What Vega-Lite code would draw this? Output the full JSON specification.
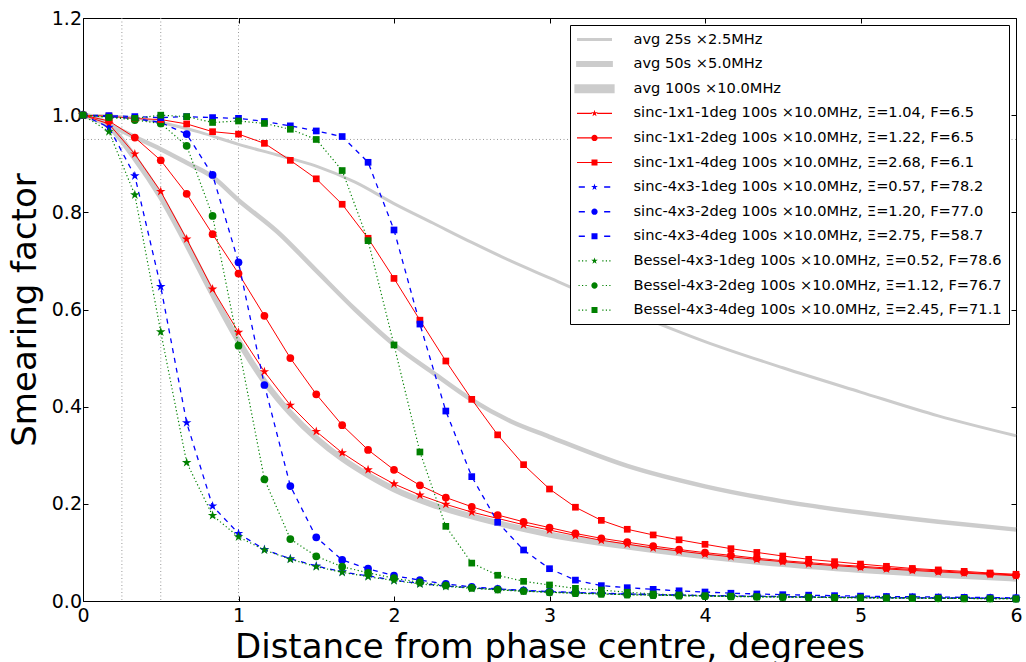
{
"$schema": "https://vega.github.io/schema/vega-lite/v6.json",
"width": 933, "height": 583,
"autosize": {"type": "none"},
"padding": {"left": 83, "top": 18, "right": 10, "bottom": 61},
"background": "white",
"config": {
  "view": {"stroke": "black", "strokeWidth": 1},
  "axis": {"grid": false, "domain": false, "tickColor": "black", "tickSize": -5, "tickWidth": 1, "labelFont": "DejaVu Sans", "labelFontSize": 19, "labelColor": "black", "titleFont": "DejaVu Sans", "titleFontSize": 34, "titleFontWeight": "normal", "titleColor": "black", "labelFlush": false, "labelOverlap": false}
},
"datasets": {
  "v": [{"v": 0.25}, {"v": 0.5}, {"v": 1}],
  "h": [{"h": 0.95}],
  "c": [
{"s":"avg 25s","x":0,"y":1},{"s":"avg 25s","x":0.25,"y":0.997},{"s":"avg 25s","x":0.5,"y":0.985},{"s":"avg 25s","x":0.75,"y":0.965},{"s":"avg 25s","x":1,"y":0.94},{"s":"avg 25s","x":1.25,"y":0.918},{"s":"avg 25s","x":1.5,"y":0.895},{"s":"avg 25s","x":1.75,"y":0.862},{"s":"avg 25s","x":2,"y":0.818},{"s":"avg 25s","x":2.25,"y":0.778},{"s":"avg 25s","x":2.5,"y":0.738},{"s":"avg 25s","x":2.75,"y":0.7},{"s":"avg 25s","x":3,"y":0.665},{"s":"avg 25s","x":3.25,"y":0.63},{"s":"avg 25s","x":3.5,"y":0.597},{"s":"avg 25s","x":4,"y":0.534},{"s":"avg 25s","x":4.5,"y":0.48},{"s":"avg 25s","x":5,"y":0.43},{"s":"avg 25s","x":5.5,"y":0.381},{"s":"avg 25s","x":6,"y":0.34},
{"s":"avg 50s","x":0,"y":1},{"s":"avg 50s","x":0.1667,"y":0.98},{"s":"avg 50s","x":0.3333,"y":0.955},{"s":"avg 50s","x":0.5,"y":0.93},{"s":"avg 50s","x":0.6667,"y":0.902},{"s":"avg 50s","x":0.8333,"y":0.873},{"s":"avg 50s","x":1,"y":0.825},{"s":"avg 50s","x":1.25,"y":0.76},{"s":"avg 50s","x":1.5,"y":0.68},{"s":"avg 50s","x":1.75,"y":0.6},{"s":"avg 50s","x":2,"y":0.528},{"s":"avg 50s","x":2.25,"y":0.47},{"s":"avg 50s","x":2.5,"y":0.414},{"s":"avg 50s","x":2.75,"y":0.37},{"s":"avg 50s","x":3,"y":0.338},{"s":"avg 50s","x":3.5,"y":0.278},{"s":"avg 50s","x":4,"y":0.236},{"s":"avg 50s","x":4.5,"y":0.205},{"s":"avg 50s","x":5,"y":0.182},{"s":"avg 50s","x":5.5,"y":0.163},{"s":"avg 50s","x":6,"y":0.147},
{"s":"avg 100s","x":0,"y":1},{"s":"avg 100s","x":0.1667,"y":0.978},{"s":"avg 100s","x":0.3333,"y":0.912},{"s":"avg 100s","x":0.5,"y":0.832},{"s":"avg 100s","x":0.6667,"y":0.735},{"s":"avg 100s","x":0.8333,"y":0.632},{"s":"avg 100s","x":1,"y":0.535},{"s":"avg 100s","x":1.1667,"y":0.452},{"s":"avg 100s","x":1.3333,"y":0.387},{"s":"avg 100s","x":1.5,"y":0.335},{"s":"avg 100s","x":1.6667,"y":0.293},{"s":"avg 100s","x":1.8333,"y":0.259},{"s":"avg 100s","x":2,"y":0.23},{"s":"avg 100s","x":2.25,"y":0.198},{"s":"avg 100s","x":2.5,"y":0.174},{"s":"avg 100s","x":2.75,"y":0.154},{"s":"avg 100s","x":3,"y":0.137},{"s":"avg 100s","x":3.5,"y":0.112},{"s":"avg 100s","x":4,"y":0.092},{"s":"avg 100s","x":4.5,"y":0.076},{"s":"avg 100s","x":5,"y":0.064},{"s":"avg 100s","x":5.5,"y":0.054},{"s":"avg 100s","x":6,"y":0.046},
{"s":"sinc-1x1-1deg","x":0,"y":1},{"s":"sinc-1x1-1deg","x":0.1667,"y":0.982},{"s":"sinc-1x1-1deg","x":0.3333,"y":0.92},{"s":"sinc-1x1-1deg","x":0.5,"y":0.843},{"s":"sinc-1x1-1deg","x":0.6667,"y":0.745},{"s":"sinc-1x1-1deg","x":0.8333,"y":0.642},{"s":"sinc-1x1-1deg","x":1,"y":0.553},{"s":"sinc-1x1-1deg","x":1.1667,"y":0.472},{"s":"sinc-1x1-1deg","x":1.3333,"y":0.403},{"s":"sinc-1x1-1deg","x":1.5,"y":0.349},{"s":"sinc-1x1-1deg","x":1.6667,"y":0.305},{"s":"sinc-1x1-1deg","x":1.8333,"y":0.27},{"s":"sinc-1x1-1deg","x":2,"y":0.241},{"s":"sinc-1x1-1deg","x":2.1667,"y":0.218},{"s":"sinc-1x1-1deg","x":2.3333,"y":0.199},{"s":"sinc-1x1-1deg","x":2.5,"y":0.183},{"s":"sinc-1x1-1deg","x":2.6667,"y":0.17},{"s":"sinc-1x1-1deg","x":2.8333,"y":0.157},{"s":"sinc-1x1-1deg","x":3,"y":0.146},{"s":"sinc-1x1-1deg","x":3.1667,"y":0.135},{"s":"sinc-1x1-1deg","x":3.3333,"y":0.125},{"s":"sinc-1x1-1deg","x":3.5,"y":0.117},{"s":"sinc-1x1-1deg","x":3.6667,"y":0.109},{"s":"sinc-1x1-1deg","x":3.8333,"y":0.103},{"s":"sinc-1x1-1deg","x":4,"y":0.0965},{"s":"sinc-1x1-1deg","x":4.1667,"y":0.091},{"s":"sinc-1x1-1deg","x":4.3333,"y":0.0855},{"s":"sinc-1x1-1deg","x":4.5,"y":0.081},{"s":"sinc-1x1-1deg","x":4.6667,"y":0.0765},{"s":"sinc-1x1-1deg","x":4.8333,"y":0.0728},{"s":"sinc-1x1-1deg","x":5,"y":0.0695},{"s":"sinc-1x1-1deg","x":5.1667,"y":0.066},{"s":"sinc-1x1-1deg","x":5.3333,"y":0.063},{"s":"sinc-1x1-1deg","x":5.5,"y":0.06},{"s":"sinc-1x1-1deg","x":5.6667,"y":0.0575},{"s":"sinc-1x1-1deg","x":5.8333,"y":0.0548},{"s":"sinc-1x1-1deg","x":6,"y":0.052},
{"s":"sinc-1x1-2deg","x":0,"y":1},{"s":"sinc-1x1-2deg","x":0.1667,"y":0.988},{"s":"sinc-1x1-2deg","x":0.3333,"y":0.954},{"s":"sinc-1x1-2deg","x":0.5,"y":0.907},{"s":"sinc-1x1-2deg","x":0.6667,"y":0.838},{"s":"sinc-1x1-2deg","x":0.8333,"y":0.755},{"s":"sinc-1x1-2deg","x":1,"y":0.674},{"s":"sinc-1x1-2deg","x":1.1667,"y":0.587},{"s":"sinc-1x1-2deg","x":1.3333,"y":0.5},{"s":"sinc-1x1-2deg","x":1.5,"y":0.4255},{"s":"sinc-1x1-2deg","x":1.6667,"y":0.362},{"s":"sinc-1x1-2deg","x":1.8333,"y":0.311},{"s":"sinc-1x1-2deg","x":2,"y":0.27},{"s":"sinc-1x1-2deg","x":2.1667,"y":0.238},{"s":"sinc-1x1-2deg","x":2.3333,"y":0.213},{"s":"sinc-1x1-2deg","x":2.5,"y":0.194},{"s":"sinc-1x1-2deg","x":2.6667,"y":0.177},{"s":"sinc-1x1-2deg","x":2.8333,"y":0.163},{"s":"sinc-1x1-2deg","x":3,"y":0.151},{"s":"sinc-1x1-2deg","x":3.1667,"y":0.139},{"s":"sinc-1x1-2deg","x":3.3333,"y":0.129},{"s":"sinc-1x1-2deg","x":3.5,"y":0.121},{"s":"sinc-1x1-2deg","x":3.6667,"y":0.113},{"s":"sinc-1x1-2deg","x":3.8333,"y":0.106},{"s":"sinc-1x1-2deg","x":4,"y":0.0995},{"s":"sinc-1x1-2deg","x":4.1667,"y":0.094},{"s":"sinc-1x1-2deg","x":4.3333,"y":0.088},{"s":"sinc-1x1-2deg","x":4.5,"y":0.083},{"s":"sinc-1x1-2deg","x":4.6667,"y":0.079},{"s":"sinc-1x1-2deg","x":4.8333,"y":0.075},{"s":"sinc-1x1-2deg","x":5,"y":0.0715},{"s":"sinc-1x1-2deg","x":5.1667,"y":0.068},{"s":"sinc-1x1-2deg","x":5.3333,"y":0.065},{"s":"sinc-1x1-2deg","x":5.5,"y":0.062},{"s":"sinc-1x1-2deg","x":5.6667,"y":0.059},{"s":"sinc-1x1-2deg","x":5.8333,"y":0.056},{"s":"sinc-1x1-2deg","x":6,"y":0.0535},
{"s":"sinc-1x1-4deg","x":0,"y":1},{"s":"sinc-1x1-4deg","x":0.1667,"y":0.998},{"s":"sinc-1x1-4deg","x":0.3333,"y":0.993},{"s":"sinc-1x1-4deg","x":0.5,"y":0.991},{"s":"sinc-1x1-4deg","x":0.6667,"y":0.982},{"s":"sinc-1x1-4deg","x":0.8333,"y":0.966},{"s":"sinc-1x1-4deg","x":1,"y":0.961},{"s":"sinc-1x1-4deg","x":1.1667,"y":0.942},{"s":"sinc-1x1-4deg","x":1.3333,"y":0.907},{"s":"sinc-1x1-4deg","x":1.5,"y":0.869},{"s":"sinc-1x1-4deg","x":1.6667,"y":0.8166},{"s":"sinc-1x1-4deg","x":1.8333,"y":0.7466},{"s":"sinc-1x1-4deg","x":2,"y":0.664},{"s":"sinc-1x1-4deg","x":2.1667,"y":0.578},{"s":"sinc-1x1-4deg","x":2.3333,"y":0.494},{"s":"sinc-1x1-4deg","x":2.5,"y":0.415},{"s":"sinc-1x1-4deg","x":2.6667,"y":0.342},{"s":"sinc-1x1-4deg","x":2.8333,"y":0.2806},{"s":"sinc-1x1-4deg","x":3,"y":0.2305},{"s":"sinc-1x1-4deg","x":3.1667,"y":0.193},{"s":"sinc-1x1-4deg","x":3.3333,"y":0.166},{"s":"sinc-1x1-4deg","x":3.5,"y":0.1476},{"s":"sinc-1x1-4deg","x":3.6667,"y":0.136},{"s":"sinc-1x1-4deg","x":3.8333,"y":0.126},{"s":"sinc-1x1-4deg","x":4,"y":0.1167},{"s":"sinc-1x1-4deg","x":4.1667,"y":0.1077},{"s":"sinc-1x1-4deg","x":4.3333,"y":0.1},{"s":"sinc-1x1-4deg","x":4.5,"y":0.0926},{"s":"sinc-1x1-4deg","x":4.6667,"y":0.0858},{"s":"sinc-1x1-4deg","x":4.8333,"y":0.081},{"s":"sinc-1x1-4deg","x":5,"y":0.076},{"s":"sinc-1x1-4deg","x":5.1667,"y":0.0714},{"s":"sinc-1x1-4deg","x":5.3333,"y":0.067},{"s":"sinc-1x1-4deg","x":5.5,"y":0.064},{"s":"sinc-1x1-4deg","x":5.6667,"y":0.061},{"s":"sinc-1x1-4deg","x":5.8333,"y":0.0576},{"s":"sinc-1x1-4deg","x":6,"y":0.055},
{"s":"sinc-4x3-1deg","x":0,"y":1},{"s":"sinc-4x3-1deg","x":0.1667,"y":0.975},{"s":"sinc-4x3-1deg","x":0.3333,"y":0.875},{"s":"sinc-4x3-1deg","x":0.5,"y":0.647},{"s":"sinc-4x3-1deg","x":0.6667,"y":0.367},{"s":"sinc-4x3-1deg","x":0.8333,"y":0.1955},{"s":"sinc-4x3-1deg","x":1,"y":0.139},{"s":"sinc-4x3-1deg","x":1.1667,"y":0.106},{"s":"sinc-4x3-1deg","x":1.3333,"y":0.087},{"s":"sinc-4x3-1deg","x":1.5,"y":0.072},{"s":"sinc-4x3-1deg","x":1.6667,"y":0.06},{"s":"sinc-4x3-1deg","x":1.8333,"y":0.0515},{"s":"sinc-4x3-1deg","x":2,"y":0.043},{"s":"sinc-4x3-1deg","x":2.1667,"y":0.036},{"s":"sinc-4x3-1deg","x":2.3333,"y":0.031},{"s":"sinc-4x3-1deg","x":2.5,"y":0.027},{"s":"sinc-4x3-1deg","x":2.6667,"y":0.024},{"s":"sinc-4x3-1deg","x":2.8333,"y":0.021},{"s":"sinc-4x3-1deg","x":3,"y":0.019},{"s":"sinc-4x3-1deg","x":3.1667,"y":0.017},{"s":"sinc-4x3-1deg","x":3.3333,"y":0.0155},{"s":"sinc-4x3-1deg","x":3.5,"y":0.014},{"s":"sinc-4x3-1deg","x":3.6667,"y":0.013},{"s":"sinc-4x3-1deg","x":3.8333,"y":0.012},{"s":"sinc-4x3-1deg","x":4,"y":0.011},{"s":"sinc-4x3-1deg","x":4.1667,"y":0.0102},{"s":"sinc-4x3-1deg","x":4.3333,"y":0.0095},{"s":"sinc-4x3-1deg","x":4.5,"y":0.0089},{"s":"sinc-4x3-1deg","x":4.6667,"y":0.0083},{"s":"sinc-4x3-1deg","x":4.8333,"y":0.0078},{"s":"sinc-4x3-1deg","x":5,"y":0.0073},{"s":"sinc-4x3-1deg","x":5.1667,"y":0.0069},{"s":"sinc-4x3-1deg","x":5.3333,"y":0.0065},{"s":"sinc-4x3-1deg","x":5.5,"y":0.0061},{"s":"sinc-4x3-1deg","x":5.6667,"y":0.0058},{"s":"sinc-4x3-1deg","x":5.8333,"y":0.0055},{"s":"sinc-4x3-1deg","x":6,"y":0.0052},
{"s":"sinc-4x3-2deg","x":0,"y":1},{"s":"sinc-4x3-2deg","x":0.1667,"y":0.997},{"s":"sinc-4x3-2deg","x":0.3333,"y":0.993},{"s":"sinc-4x3-2deg","x":0.5,"y":0.985},{"s":"sinc-4x3-2deg","x":0.6667,"y":0.961},{"s":"sinc-4x3-2deg","x":0.8333,"y":0.877},{"s":"sinc-4x3-2deg","x":1,"y":0.697},{"s":"sinc-4x3-2deg","x":1.1667,"y":0.4446},{"s":"sinc-4x3-2deg","x":1.3333,"y":0.2367},{"s":"sinc-4x3-2deg","x":1.5,"y":0.131},{"s":"sinc-4x3-2deg","x":1.6667,"y":0.0844},{"s":"sinc-4x3-2deg","x":1.8333,"y":0.0665},{"s":"sinc-4x3-2deg","x":2,"y":0.052},{"s":"sinc-4x3-2deg","x":2.1667,"y":0.043},{"s":"sinc-4x3-2deg","x":2.3333,"y":0.035},{"s":"sinc-4x3-2deg","x":2.5,"y":0.029},{"s":"sinc-4x3-2deg","x":2.6667,"y":0.025},{"s":"sinc-4x3-2deg","x":2.8333,"y":0.022},{"s":"sinc-4x3-2deg","x":3,"y":0.0195},{"s":"sinc-4x3-2deg","x":3.1667,"y":0.0175},{"s":"sinc-4x3-2deg","x":3.3333,"y":0.016},{"s":"sinc-4x3-2deg","x":3.5,"y":0.0145},{"s":"sinc-4x3-2deg","x":3.6667,"y":0.0133},{"s":"sinc-4x3-2deg","x":3.8333,"y":0.0122},{"s":"sinc-4x3-2deg","x":4,"y":0.0113},{"s":"sinc-4x3-2deg","x":4.1667,"y":0.0105},{"s":"sinc-4x3-2deg","x":4.3333,"y":0.0098},{"s":"sinc-4x3-2deg","x":4.5,"y":0.0092},{"s":"sinc-4x3-2deg","x":4.6667,"y":0.0086},{"s":"sinc-4x3-2deg","x":4.8333,"y":0.0081},{"s":"sinc-4x3-2deg","x":5,"y":0.0076},{"s":"sinc-4x3-2deg","x":5.1667,"y":0.0072},{"s":"sinc-4x3-2deg","x":5.3333,"y":0.0068},{"s":"sinc-4x3-2deg","x":5.5,"y":0.0064},{"s":"sinc-4x3-2deg","x":5.6667,"y":0.006},{"s":"sinc-4x3-2deg","x":5.8333,"y":0.0057},{"s":"sinc-4x3-2deg","x":6,"y":0.0054},
{"s":"sinc-4x3-4deg","x":0,"y":1},{"s":"sinc-4x3-4deg","x":0.1667,"y":0.999},{"s":"sinc-4x3-4deg","x":0.3333,"y":0.997},{"s":"sinc-4x3-4deg","x":0.5,"y":0.995},{"s":"sinc-4x3-4deg","x":0.6667,"y":0.997},{"s":"sinc-4x3-4deg","x":0.8333,"y":0.995},{"s":"sinc-4x3-4deg","x":1,"y":0.9935},{"s":"sinc-4x3-4deg","x":1.1667,"y":0.987},{"s":"sinc-4x3-4deg","x":1.3333,"y":0.978},{"s":"sinc-4x3-4deg","x":1.5,"y":0.9675},{"s":"sinc-4x3-4deg","x":1.6667,"y":0.956},{"s":"sinc-4x3-4deg","x":1.8333,"y":0.903},{"s":"sinc-4x3-4deg","x":2,"y":0.7637},{"s":"sinc-4x3-4deg","x":2.1667,"y":0.57},{"s":"sinc-4x3-4deg","x":2.3333,"y":0.391},{"s":"sinc-4x3-4deg","x":2.5,"y":0.256},{"s":"sinc-4x3-4deg","x":2.6667,"y":0.162},{"s":"sinc-4x3-4deg","x":2.8333,"y":0.105},{"s":"sinc-4x3-4deg","x":3,"y":0.0665},{"s":"sinc-4x3-4deg","x":3.1667,"y":0.043},{"s":"sinc-4x3-4deg","x":3.3333,"y":0.0316},{"s":"sinc-4x3-4deg","x":3.5,"y":0.0274},{"s":"sinc-4x3-4deg","x":3.6667,"y":0.024},{"s":"sinc-4x3-4deg","x":3.8333,"y":0.021},{"s":"sinc-4x3-4deg","x":4,"y":0.0185},{"s":"sinc-4x3-4deg","x":4.1667,"y":0.016},{"s":"sinc-4x3-4deg","x":4.3333,"y":0.0145},{"s":"sinc-4x3-4deg","x":4.5,"y":0.013},{"s":"sinc-4x3-4deg","x":4.6667,"y":0.012},{"s":"sinc-4x3-4deg","x":4.8333,"y":0.011},{"s":"sinc-4x3-4deg","x":5,"y":0.01},{"s":"sinc-4x3-4deg","x":5.1667,"y":0.0093},{"s":"sinc-4x3-4deg","x":5.3333,"y":0.0087},{"s":"sinc-4x3-4deg","x":5.5,"y":0.0081},{"s":"sinc-4x3-4deg","x":5.6667,"y":0.0075},{"s":"sinc-4x3-4deg","x":5.8333,"y":0.007},{"s":"sinc-4x3-4deg","x":6,"y":0.0065},
{"s":"Bessel-4x3-1deg","x":0,"y":1},{"s":"Bessel-4x3-1deg","x":0.1667,"y":0.966},{"s":"Bessel-4x3-1deg","x":0.3333,"y":0.836},{"s":"Bessel-4x3-1deg","x":0.5,"y":0.554},{"s":"Bessel-4x3-1deg","x":0.6667,"y":0.285},{"s":"Bessel-4x3-1deg","x":0.8333,"y":0.176},{"s":"Bessel-4x3-1deg","x":1,"y":0.132},{"s":"Bessel-4x3-1deg","x":1.1667,"y":0.105},{"s":"Bessel-4x3-1deg","x":1.3333,"y":0.086},{"s":"Bessel-4x3-1deg","x":1.5,"y":0.0706},{"s":"Bessel-4x3-1deg","x":1.6667,"y":0.059},{"s":"Bessel-4x3-1deg","x":1.8333,"y":0.05},{"s":"Bessel-4x3-1deg","x":2,"y":0.042},{"s":"Bessel-4x3-1deg","x":2.1667,"y":0.035},{"s":"Bessel-4x3-1deg","x":2.3333,"y":0.03},{"s":"Bessel-4x3-1deg","x":2.5,"y":0.026},{"s":"Bessel-4x3-1deg","x":2.6667,"y":0.023},{"s":"Bessel-4x3-1deg","x":2.8333,"y":0.02},{"s":"Bessel-4x3-1deg","x":3,"y":0.018},{"s":"Bessel-4x3-1deg","x":3.1667,"y":0.016},{"s":"Bessel-4x3-1deg","x":3.3333,"y":0.0145},{"s":"Bessel-4x3-1deg","x":3.5,"y":0.013},{"s":"Bessel-4x3-1deg","x":3.6667,"y":0.012},{"s":"Bessel-4x3-1deg","x":3.8333,"y":0.011},{"s":"Bessel-4x3-1deg","x":4,"y":0.0102},{"s":"Bessel-4x3-1deg","x":4.1667,"y":0.0094},{"s":"Bessel-4x3-1deg","x":4.3333,"y":0.0087},{"s":"Bessel-4x3-1deg","x":4.5,"y":0.0081},{"s":"Bessel-4x3-1deg","x":4.6667,"y":0.0076},{"s":"Bessel-4x3-1deg","x":4.8333,"y":0.0071},{"s":"Bessel-4x3-1deg","x":5,"y":0.0066},{"s":"Bessel-4x3-1deg","x":5.1667,"y":0.0062},{"s":"Bessel-4x3-1deg","x":5.3333,"y":0.0058},{"s":"Bessel-4x3-1deg","x":5.5,"y":0.0055},{"s":"Bessel-4x3-1deg","x":5.6667,"y":0.0052},{"s":"Bessel-4x3-1deg","x":5.8333,"y":0.0049},{"s":"Bessel-4x3-1deg","x":6,"y":0.0046},
{"s":"Bessel-4x3-2deg","x":0,"y":1},{"s":"Bessel-4x3-2deg","x":0.1667,"y":0.996},{"s":"Bessel-4x3-2deg","x":0.3333,"y":0.99},{"s":"Bessel-4x3-2deg","x":0.5,"y":0.983},{"s":"Bessel-4x3-2deg","x":0.6667,"y":0.937},{"s":"Bessel-4x3-2deg","x":0.8333,"y":0.7925},{"s":"Bessel-4x3-2deg","x":1,"y":0.5255},{"s":"Bessel-4x3-2deg","x":1.1667,"y":0.2505},{"s":"Bessel-4x3-2deg","x":1.3333,"y":0.1276},{"s":"Bessel-4x3-2deg","x":1.5,"y":0.092},{"s":"Bessel-4x3-2deg","x":1.6667,"y":0.0706},{"s":"Bessel-4x3-2deg","x":1.8333,"y":0.058},{"s":"Bessel-4x3-2deg","x":2,"y":0.047},{"s":"Bessel-4x3-2deg","x":2.1667,"y":0.0385},{"s":"Bessel-4x3-2deg","x":2.3333,"y":0.032},{"s":"Bessel-4x3-2deg","x":2.5,"y":0.027},{"s":"Bessel-4x3-2deg","x":2.6667,"y":0.0235},{"s":"Bessel-4x3-2deg","x":2.8333,"y":0.0205},{"s":"Bessel-4x3-2deg","x":3,"y":0.018},{"s":"Bessel-4x3-2deg","x":3.1667,"y":0.016},{"s":"Bessel-4x3-2deg","x":3.3333,"y":0.0145},{"s":"Bessel-4x3-2deg","x":3.5,"y":0.013},{"s":"Bessel-4x3-2deg","x":3.6667,"y":0.012},{"s":"Bessel-4x3-2deg","x":3.8333,"y":0.011},{"s":"Bessel-4x3-2deg","x":4,"y":0.01},{"s":"Bessel-4x3-2deg","x":4.1667,"y":0.0093},{"s":"Bessel-4x3-2deg","x":4.3333,"y":0.0087},{"s":"Bessel-4x3-2deg","x":4.5,"y":0.0081},{"s":"Bessel-4x3-2deg","x":4.6667,"y":0.0075},{"s":"Bessel-4x3-2deg","x":4.8333,"y":0.007},{"s":"Bessel-4x3-2deg","x":5,"y":0.0066},{"s":"Bessel-4x3-2deg","x":5.1667,"y":0.0062},{"s":"Bessel-4x3-2deg","x":5.3333,"y":0.0058},{"s":"Bessel-4x3-2deg","x":5.5,"y":0.0055},{"s":"Bessel-4x3-2deg","x":5.6667,"y":0.0052},{"s":"Bessel-4x3-2deg","x":5.8333,"y":0.0049},{"s":"Bessel-4x3-2deg","x":6,"y":0.0046},
{"s":"Bessel-4x3-4deg","x":0,"y":1},{"s":"Bessel-4x3-4deg","x":0.1667,"y":0.9955},{"s":"Bessel-4x3-4deg","x":0.3333,"y":0.9935},{"s":"Bessel-4x3-4deg","x":0.5,"y":1},{"s":"Bessel-4x3-4deg","x":0.6667,"y":0.997},{"s":"Bessel-4x3-4deg","x":0.8333,"y":0.985},{"s":"Bessel-4x3-4deg","x":1,"y":0.988},{"s":"Bessel-4x3-4deg","x":1.1667,"y":0.983},{"s":"Bessel-4x3-4deg","x":1.3333,"y":0.971},{"s":"Bessel-4x3-4deg","x":1.5,"y":0.95},{"s":"Bessel-4x3-4deg","x":1.6667,"y":0.886},{"s":"Bessel-4x3-4deg","x":1.8333,"y":0.7417},{"s":"Bessel-4x3-4deg","x":2,"y":0.527},{"s":"Bessel-4x3-4deg","x":2.1667,"y":0.3067},{"s":"Bessel-4x3-4deg","x":2.3333,"y":0.1537},{"s":"Bessel-4x3-4deg","x":2.5,"y":0.078},{"s":"Bessel-4x3-4deg","x":2.6667,"y":0.053},{"s":"Bessel-4x3-4deg","x":2.8333,"y":0.0405},{"s":"Bessel-4x3-4deg","x":3,"y":0.033},{"s":"Bessel-4x3-4deg","x":3.1667,"y":0.026},{"s":"Bessel-4x3-4deg","x":3.3333,"y":0.0226},{"s":"Bessel-4x3-4deg","x":3.5,"y":0.018},{"s":"Bessel-4x3-4deg","x":3.6667,"y":0.0144},{"s":"Bessel-4x3-4deg","x":3.8333,"y":0.0124},{"s":"Bessel-4x3-4deg","x":4,"y":0.011},{"s":"Bessel-4x3-4deg","x":4.1667,"y":0.01},{"s":"Bessel-4x3-4deg","x":4.3333,"y":0.0092},{"s":"Bessel-4x3-4deg","x":4.5,"y":0.0085},{"s":"Bessel-4x3-4deg","x":4.6667,"y":0.0079},{"s":"Bessel-4x3-4deg","x":4.8333,"y":0.0073},{"s":"Bessel-4x3-4deg","x":5,"y":0.0068},{"s":"Bessel-4x3-4deg","x":5.1667,"y":0.0064},{"s":"Bessel-4x3-4deg","x":5.3333,"y":0.006},{"s":"Bessel-4x3-4deg","x":5.5,"y":0.0056},{"s":"Bessel-4x3-4deg","x":5.6667,"y":0.0053},{"s":"Bessel-4x3-4deg","x":5.8333,"y":0.005},{"s":"Bessel-4x3-4deg","x":6,"y":0.0047}
  ]
},
"resolve": {"axis": {"x": "independent", "y": "independent"}},
"layer": [
  {
    "data": {"name": "v"},
    "mark": {"type": "rule", "stroke": "#9a9a9a", "strokeWidth": 1, "strokeDash": [1, 2.5]},
    "encoding": {"x": {"field": "v", "type": "quantitative", "scale": {"domain": [0, 6], "nice": false, "zero": false}, "axis": null}}
  },
  {
    "data": {"name": "h"},
    "mark": {"type": "rule", "stroke": "#9a9a9a", "strokeWidth": 1, "strokeDash": [1, 2.5]},
    "encoding": {"y": {"field": "h", "type": "quantitative", "scale": {"domain": [0, 1.2], "nice": false, "zero": false}, "axis": null}}
  },
  {
    "data": {"name": "c"},
    "transform": [{"filter": {"field": "s", "oneOf": ["avg 25s", "avg 50s", "avg 100s"]}}],
    "mark": {"type": "line", "interpolate": "monotone", "strokeCap": "butt", "color": "#cccccc"},
    "encoding": {
      "x": {"field": "x", "type": "quantitative", "scale": {"domain": [0, 6], "nice": false, "zero": false},
            "axis": {"orient": "bottom", "values": [0, 1, 2, 3, 4, 5, 6], "format": "d", "title": "Distance from phase centre, degrees", "labelPadding": 10, "titlePadding": 5}},
      "y": {"field": "y", "type": "quantitative", "scale": {"domain": [0, 1.2], "nice": false, "zero": false},
            "axis": {"orient": "left", "values": [0, 0.2, 0.4, 0.6, 0.8, 1, 1.2], "format": ".1f", "title": "Smearing factor", "labelPadding": 6.5, "titlePadding": 9}},
      "detail": {"field": "s", "type": "nominal"},
      "strokeWidth": {"field": "s", "type": "ordinal", "legend": null, "scale": {"domain": ["avg 25s", "avg 50s", "avg 100s"], "range": [3, 6, 9]}}
    }
  },
  {
    "data": {"name": "c"},
    "transform": [{"filter": {"field": "s", "oneOf": ["sinc-1x1-1deg", "sinc-1x1-2deg", "sinc-1x1-4deg"]}}],
    "mark": {"type": "line", "strokeWidth": 1, "color": "#ff0000"},
    "encoding": {
      "x": {"field": "x", "type": "quantitative", "scale": {"domain": [0, 6], "nice": false, "zero": false},
            "axis": {"orient": "top", "values": [0, 1, 2, 3, 4, 5, 6], "labels": false, "title": null}},
      "y": {"field": "y", "type": "quantitative", "scale": {"domain": [0, 1.2], "nice": false, "zero": false},
            "axis": {"orient": "right", "values": [0, 0.2, 0.4, 0.6, 0.8, 1, 1.2], "labels": false, "title": null}},
      "detail": {"field": "s", "type": "nominal"}
    }
  },
  {
    "data": {"name": "c"},
    "transform": [{"filter": {"field": "s", "oneOf": ["sinc-4x3-1deg", "sinc-4x3-2deg", "sinc-4x3-4deg"]}}],
    "mark": {"type": "line", "strokeWidth": 1.3, "strokeDash": [5, 5], "color": "#0000ff"},
    "encoding": {
      "x": {"field": "x", "type": "quantitative", "axis": null},
      "y": {"field": "y", "type": "quantitative", "axis": null},
      "detail": {"field": "s", "type": "nominal"}
    }
  },
  {
    "data": {"name": "c"},
    "transform": [{"filter": {"field": "s", "oneOf": ["Bessel-4x3-1deg", "Bessel-4x3-2deg", "Bessel-4x3-4deg"]}}],
    "mark": {"type": "line", "strokeWidth": 1.2, "strokeDash": [1.2, 2.5], "color": "#008000"},
    "encoding": {
      "x": {"field": "x", "type": "quantitative", "axis": null},
      "y": {"field": "y", "type": "quantitative", "axis": null},
      "detail": {"field": "s", "type": "nominal"}
    }
  },
  {
    "data": {"name": "c"},
    "transform": [{"filter": {"field": "s", "oneOf": ["sinc-1x1-1deg", "sinc-4x3-1deg", "Bessel-4x3-1deg"]}}],
    "mark": {"type": "point", "filled": true, "opacity": 1, "strokeWidth": 0, "size": 100,
             "shape": "M0,-1L0.225,-0.309L0.951,-0.309L0.363,0.118L0.588,0.809L0,0.382L-0.588,0.809L-0.363,0.118L-0.951,-0.309L-0.225,-0.309Z"},
    "encoding": {
      "x": {"field": "x", "type": "quantitative", "axis": null},
      "y": {"field": "y", "type": "quantitative", "axis": null},
      "fill": {"field": "s", "type": "nominal", "legend": null,
               "scale": {"domain": ["sinc-1x1-1deg", "sinc-1x1-2deg", "sinc-1x1-4deg", "sinc-4x3-1deg", "sinc-4x3-2deg", "sinc-4x3-4deg", "Bessel-4x3-1deg", "Bessel-4x3-2deg", "Bessel-4x3-4deg"],
                         "range": ["#ff0000", "#ff0000", "#ff0000", "#0000ff", "#0000ff", "#0000ff", "#008000", "#008000", "#008000"]}}
    }
  },
  {
    "data": {"name": "c"},
    "transform": [{"filter": {"field": "s", "oneOf": ["sinc-1x1-2deg", "sinc-4x3-2deg", "Bessel-4x3-2deg"]}}],
    "mark": {"type": "point", "filled": true, "opacity": 1, "strokeWidth": 0, "size": 60, "shape": "circle"},
    "encoding": {
      "x": {"field": "x", "type": "quantitative", "axis": null},
      "y": {"field": "y", "type": "quantitative", "axis": null},
      "fill": {"field": "s", "type": "nominal", "legend": null}
    }
  },
  {
    "data": {"name": "c"},
    "transform": [{"filter": {"field": "s", "oneOf": ["sinc-1x1-4deg", "sinc-4x3-4deg", "Bessel-4x3-4deg"]}}],
    "mark": {"type": "point", "filled": true, "opacity": 1, "strokeWidth": 0, "size": 45, "shape": "square"},
    "encoding": {
      "x": {"field": "x", "type": "quantitative", "axis": null},
      "y": {"field": "y", "type": "quantitative", "axis": null},
      "fill": {"field": "s", "type": "nominal", "legend": null}
    }
  },
  {
    "data": {"name": "c"},
    "transform": [{"filter": {"field": "x", "lt": 0}}],
    "mark": {"type": "point", "filled": true, "opacity": 1, "strokeWidth": 0},
    "encoding": {
      "color": {"field": "s", "type": "nominal",
                "scale": {"domain": ["avg 25s", "avg 50s", "avg 100s", "sinc-1x1-1deg", "sinc-1x1-2deg", "sinc-1x1-4deg", "sinc-4x3-1deg", "sinc-4x3-2deg", "sinc-4x3-4deg", "Bessel-4x3-1deg", "Bessel-4x3-2deg", "Bessel-4x3-4deg"],
                          "range": ["#cccccc", "#cccccc", "#cccccc", "#ff0000", "#ff0000", "#ff0000", "#0000ff", "#0000ff", "#0000ff", "#008000", "#008000", "#008000"]},
                "legend": {"title": null, "orient": "top-right", "offset": 7, "strokeColor": "black", "fillColor": "white", "padding": 7, "cornerRadius": 0,
                           "symbolSize": 225, "symbolOffset": 10, "symbolStrokeWidth": 0, "symbolOpacity": 1, "labelFont": "DejaVu Sans", "labelFontSize": 14.6, "labelColor": "black",
                           "labelLimit": 600, "labelOffset": 31.5, "rowPadding": 8.6,
                           "labelExpr": "datum.label == 'avg 25s' ? 'avg 25s ×2.5MHz' : datum.label == 'avg 50s' ? 'avg 50s ×5.0MHz' : datum.label == 'avg 100s' ? 'avg 100s ×10.0MHz' : datum.label + ' 100s ×10.0MHz, Ξ=' + (datum.label == 'sinc-1x1-1deg' ? '1.04, F=6.5' : datum.label == 'sinc-1x1-2deg' ? '1.22, F=6.5' : datum.label == 'sinc-1x1-4deg' ? '2.68, F=6.1' : datum.label == 'sinc-4x3-1deg' ? '0.57, F=78.2' : datum.label == 'sinc-4x3-2deg' ? '1.20, F=77.0' : datum.label == 'sinc-4x3-4deg' ? '2.75, F=58.7' : datum.label == 'Bessel-4x3-1deg' ? '0.52, F=78.6' : datum.label == 'Bessel-4x3-2deg' ? '1.12, F=76.7' : '2.45, F=71.1')"}},
      "shape": {"field": "s", "type": "nominal",
                "legend": {"title": null, "orient": "top-right", "offset": 7, "strokeColor": "black", "fillColor": "white", "padding": 7, "cornerRadius": 0,
                           "symbolSize": 225, "symbolOffset": 10, "symbolStrokeWidth": 0, "symbolOpacity": 1, "labelFont": "DejaVu Sans", "labelFontSize": 14.6, "labelColor": "black",
                           "labelLimit": 600, "labelOffset": 31.5, "rowPadding": 8.6},
                "scale": {"domain": ["avg 25s", "avg 50s", "avg 100s", "sinc-1x1-1deg", "sinc-1x1-2deg", "sinc-1x1-4deg", "sinc-4x3-1deg", "sinc-4x3-2deg", "sinc-4x3-4deg", "Bessel-4x3-1deg", "Bessel-4x3-2deg", "Bessel-4x3-4deg"],
                          "range": [
                            "M-2.333,-0.2L2.333,-0.2L2.333,0.2L-2.333,0.2Z",
                            "M-2.45,-0.4L2.45,-0.4L2.45,0.4L-2.45,0.4Z",
                            "M-2.683,-0.6L2.683,-0.6L2.683,0.6L-2.683,0.6Z",
                            "M-2.333,-0.08L-0.35,-0.08L-0.35,0.08L-2.333,0.08ZM0.35,-0.08L2.333,-0.08L2.333,0.08L0.35,0.08ZM0,-0.467L0.105,-0.144L0.444,-0.144L0.17,0.055L0.275,0.378L0,0.178L-0.275,0.378L-0.17,0.055L-0.444,-0.144L-0.105,-0.144Z",
                            "M-2.333,-0.08L-0.35,-0.08L-0.35,0.08L-2.333,0.08ZM0.35,-0.08L2.333,-0.08L2.333,0.08L0.35,0.08ZM0.42,0A0.42,0.42,0,1,1,-0.42,0A0.42,0.42,0,1,1,0.42,0Z",
                            "M-2.333,-0.08L-0.35,-0.08L-0.35,0.08L-2.333,0.08ZM0.35,-0.08L2.333,-0.08L2.333,0.08L0.35,0.08ZM-0.4,-0.4L0.4,-0.4L0.4,0.4L-0.4,0.4Z",
                            "M-2.1,-0.1L-1.283,-0.1L-1.283,0.1L-2.1,0.1ZM1.283,-0.1L2.1,-0.1L2.1,0.1L1.283,0.1ZM0,-0.467L0.105,-0.144L0.444,-0.144L0.17,0.055L0.275,0.378L0,0.178L-0.275,0.378L-0.17,0.055L-0.444,-0.144L-0.105,-0.144Z",
                            "M-2.1,-0.1L-1.283,-0.1L-1.283,0.1L-2.1,0.1ZM1.283,-0.1L2.1,-0.1L2.1,0.1L1.283,0.1ZM0.42,0A0.42,0.42,0,1,1,-0.42,0A0.42,0.42,0,1,1,0.42,0Z",
                            "M-2.1,-0.1L-1.283,-0.1L-1.283,0.1L-2.1,0.1ZM1.283,-0.1L2.1,-0.1L2.1,0.1L1.283,0.1ZM-0.4,-0.4L0.4,-0.4L0.4,0.4L-0.4,0.4Z",
                            "M-2.133,-0.08L-1.973,-0.08L-1.973,0.08L-2.133,0.08ZM-1.667,-0.08L-1.507,-0.08L-1.507,0.08L-1.667,0.08ZM-1.2,-0.08L-1.04,-0.08L-1.04,0.08L-1.2,0.08ZM1.04,-0.08L1.2,-0.08L1.2,0.08L1.04,0.08ZM1.507,-0.08L1.667,-0.08L1.667,0.08L1.507,0.08ZM1.973,-0.08L2.133,-0.08L2.133,0.08L1.973,0.08ZM0,-0.467L0.105,-0.144L0.444,-0.144L0.17,0.055L0.275,0.378L0,0.178L-0.275,0.378L-0.17,0.055L-0.444,-0.144L-0.105,-0.144Z",
                            "M-2.133,-0.08L-1.973,-0.08L-1.973,0.08L-2.133,0.08ZM-1.667,-0.08L-1.507,-0.08L-1.507,0.08L-1.667,0.08ZM-1.2,-0.08L-1.04,-0.08L-1.04,0.08L-1.2,0.08ZM1.04,-0.08L1.2,-0.08L1.2,0.08L1.04,0.08ZM1.507,-0.08L1.667,-0.08L1.667,0.08L1.507,0.08ZM1.973,-0.08L2.133,-0.08L2.133,0.08L1.973,0.08ZM0.42,0A0.42,0.42,0,1,1,-0.42,0A0.42,0.42,0,1,1,0.42,0Z",
                            "M-2.133,-0.08L-1.973,-0.08L-1.973,0.08L-2.133,0.08ZM-1.667,-0.08L-1.507,-0.08L-1.507,0.08L-1.667,0.08ZM-1.2,-0.08L-1.04,-0.08L-1.04,0.08L-1.2,0.08ZM1.04,-0.08L1.2,-0.08L1.2,0.08L1.04,0.08ZM1.507,-0.08L1.667,-0.08L1.667,0.08L1.507,0.08ZM1.973,-0.08L2.133,-0.08L2.133,0.08L1.973,0.08ZM-0.4,-0.4L0.4,-0.4L0.4,0.4L-0.4,0.4Z"
                          ]}}
    }
  }
]
}
